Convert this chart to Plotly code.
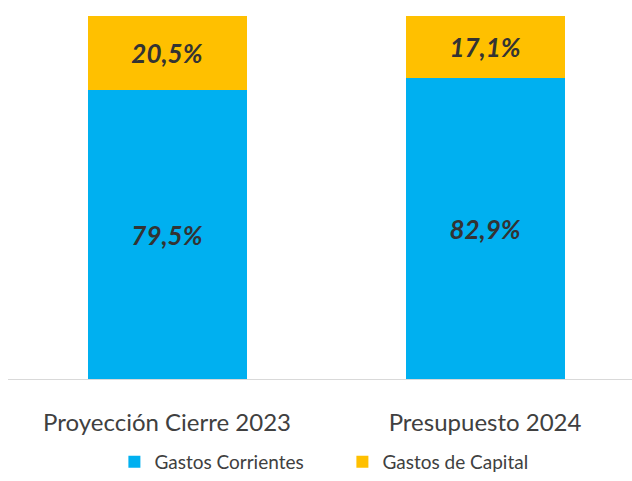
import plotly.graph_objects as go

categories = ["Proyección Cierre 2023", "Presupuesto 2024"]
gastos_corrientes = [79.5, 82.9]
gastos_capital = [20.5, 17.1]
labels_corrientes = ["79,5%", "82,9%"]
labels_capital = ["20,5%", "17,1%"]

FONT = "Lato"
label_font = dict(family=FONT, size=26, color="#333333", weight="bold", style="italic")

fig = go.Figure()
fig.add_trace(go.Bar(
    x=categories, y=gastos_corrientes, name="Gastos Corrientes",
    marker=dict(color="#00B0F0", line=dict(width=0)),
    text=labels_corrientes, textposition="inside", insidetextanchor="middle",
    textfont=label_font, width=0.5, hoverinfo="skip",
))
fig.add_trace(go.Bar(
    x=categories, y=gastos_capital, name="Gastos de Capital",
    marker=dict(color="#FFC000", line=dict(width=0)),
    text=labels_capital, textposition="inside", insidetextanchor="middle",
    textfont=label_font, width=0.5, hoverinfo="skip",
))

fig.update_layout(
    barmode="stack",
    width=632, height=481,
    margin=dict(l=8, r=0, t=16, b=102, autoexpand=False),
    paper_bgcolor="white", plot_bgcolor="white",
    xaxis=dict(
        range=[-0.5, 1.462], automargin=False,
        showline=True, linecolor="#D9D9D9", linewidth=1,
        ticks="outside", ticklen=22, tickcolor="rgba(0,0,0,0)",
        tickfont=dict(family=FONT, size=24, color="#404040"),
        showgrid=False, zeroline=False,
    ),
    yaxis=dict(range=[0, 100], visible=False, showgrid=False, zeroline=False),
    showlegend=True,
    legend=dict(
        orientation="h", xref="container", yref="container",
        x=0.181, xanchor="left", y=0.0, yanchor="bottom",
        traceorder="normal",
        font=dict(family=FONT, size=19, color="#404040"),
        itemwidth=30, entrywidth=183, entrywidthmode="pixels",
    ),
)

fig.write_html(
    "out.html",
    config={"displayModeBar": False},
    post_script="document.body.style.margin='0';document.body.style.overflow='hidden';",
)
